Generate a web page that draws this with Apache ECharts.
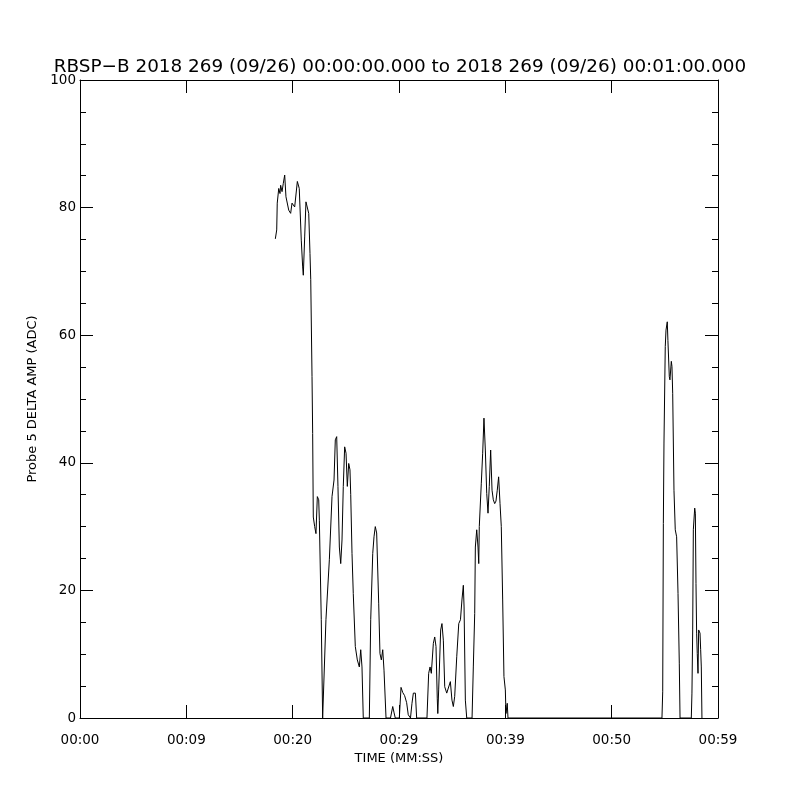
<!DOCTYPE html>
<html>
<head>
<meta charset="utf-8">
<script src="https://cdn.jsdelivr.net/npm/echarts@6/dist/echarts.min.js"></script>
<style>html,body{margin:0;padding:0;background:#fff}#c{width:800px;height:800px}</style>
</head>
<body>
<div id="c"></div>
<script>
const titleText = 'RBSP\u2212B 2018 269 (09/26) 00:00:00.000 to 2018 269 (09/26) 00:01:00.000';
const xTickLabels = ['00:00','00:09','00:20','00:29','00:39','00:50','00:59'];
const yTicks = [0, 20, 40, 60, 80, 100];

// time in seconds
const times = [
18.37,18.50,18.55,18.69,18.81,18.87,19.00,19.12,19.25,19.37,19.63,19.81,19.94,20.19,20.44,20.57,20.62,20.81,20.94,21.00,
21.13,21.25,21.38,21.51,21.63,21.70,21.82,21.88,21.94,22.07,22.19,22.32,22.45,22.51,22.69,22.82,22.95,23.13,23.45,23.70,
23.89,24.01,24.14,24.26,24.39,24.52,24.64,24.76,24.89,25.02,25.14,25.27,25.39,25.46,25.58,25.70,25.89,26.08,26.27,26.40,
26.52,26.64,27.21,27.34,27.53,27.65,27.77,27.90,28.09,28.21,28.34,28.47,28.59,28.78,29.20,29.41,29.54,29.65,30.03,30.19,
30.35,30.53,30.72,30.87,31.08,31.22,31.35,31.54,31.66,32.63,32.79,32.92,33.04,33.23,33.36,33.48,33.60,33.65,33.73,33.92,
34.04,34.17,34.30,34.49,34.67,34.83,34.98,35.11,35.24,35.43,35.62,35.78,35.92,36.05,36.12,36.24,36.37,36.87,36.99,37.12,
37.18,37.31,37.43,37.50,37.55,37.74,37.87,37.99,38.12,38.25,38.37,38.49,38.62,38.75,38.87,39.00,39.12,39.24,39.37,39.50,
39.62,39.75,39.87,40.00,40.06,40.18,40.25,54.73,54.80,54.86,54.92,55.04,55.11,55.23,55.29,55.42,55.48,55.61,55.67,55.74,
55.86,55.98,56.11,56.24,56.36,56.43,57.49,57.55,57.62,57.68,57.81,57.87,57.93,57.99,58.05,58.12,58.18,58.31,58.37,58.43,
58.49
];
// Probe 5 delta amp (ADC)
const amps = [
75.1,76.5,80.7,83.0,82.2,83.5,82.5,83.8,85.1,81.7,79.6,79.1,80.7,80.1,84.1,83.8,83.0,74.9,70.7,69.4,
75.4,80.9,80.7,79.1,72.8,68.7,53.5,44.6,31.5,30.0,28.9,34.7,34.2,31.0,15.4,0,0,15.4,24.8,34.7,
37.3,43.6,44.1,36.3,26.8,24.2,27.9,36.3,42.5,41.5,36.3,39.9,38.9,35.0,25.8,19.5,11.2,9.1,8.0,10.7,
8.0,0,0,15.4,25.8,28.4,30.0,29.0,18.0,10.1,9.1,10.7,7.5,0,0,1.8,0.8,0,0,4.8,
4.0,3.5,2.4,0.5,0,2.3,3.9,3.9,0,0,7.0,8.0,7.0,11.7,12.7,11.2,3.0,0.7,4.4,13.8,
14.8,12.2,4.9,3.9,3.9,5.7,2.8,1.8,3.4,9.6,14.8,15.4,18.5,20.8,17.4,2.8,0,0,8.0,16.4,
26.8,29.5,26.8,24.2,30.0,36.8,41.5,47.0,42.0,35.2,32.1,36.3,42.0,35.7,34.2,33.6,34.0,35.7,37.8,33.6,
30.0,18.5,6.5,4.4,0.7,2.3,0,0,4.1,30.5,43.1,58.2,60.8,62.1,59.2,53.5,53.0,55.9,55.1,50.9,
35.7,29.5,28.4,19.5,8.6,0,0,3.9,13.8,29.5,32.9,32.1,21.1,13.3,10.1,7.0,13.8,13.3,10.7,8.0,
0
];

const seriesData = times.map((t, i) => [t, amps[i]]);
const FONT = 'DejaVu Sans';

const chart = echarts.init(document.getElementById('c'), null, {renderer: 'canvas'});
const lineStyle = {color: '#000', width: 1};
chart.setOption({
  animation: false,
  backgroundColor: '#fff',
  title: {
    text: titleText, left: 'center', top: 53,
    textStyle: {fontFamily: FONT, fontSize: 18.4, fontWeight: 'normal', color: '#000'}
  },
  grid: {left: 80, right: 82, top: 80, bottom: 82, containLabel: false},
  xAxis: [{
    type: 'value', min: 0, max: 60, interval: 10, position: 'bottom',
    name: 'TIME (MM:SS)', nameLocation: 'middle', nameGap: 34,
    nameTextStyle: {fontFamily: FONT, fontSize: 13, color: '#000'},
    axisLine: {show: true, onZero: false, lineStyle},
    axisTick: {show: true, inside: true, length: 13, lineStyle},
    axisLabel: {fontFamily: FONT, fontSize: 13.5, color: '#000', margin: 15,
      formatter: (v) => xTickLabels[Math.round(v / 10)]},
    splitLine: {show: false}
  }, {
    type: 'value', min: 0, max: 60, interval: 10, position: 'top',
    axisLine: {show: true, onZero: false, lineStyle},
    axisTick: {show: true, inside: true, length: 13, lineStyle},
    axisLabel: {show: false}, splitLine: {show: false}
  }],
  yAxis: [{
    type: 'value', min: 0, max: 100, interval: 20, position: 'left',
    name: 'Probe 5 DELTA AMP (ADC)', nameLocation: 'middle', nameGap: 40,
    nameTextStyle: {fontFamily: FONT, fontSize: 13, color: '#000'},
    axisLine: {show: true, onZero: false, lineStyle},
    axisTick: {show: true, inside: true, length: 13, lineStyle},
    minorTick: {show: true, splitNumber: 4, length: 6, lineStyle},
    axisLabel: {fontFamily: FONT, fontSize: 13.5, color: '#000', margin: 4,
      formatter: (v) => yTicks.includes(v) ? String(v) : ''},
    splitLine: {show: false}, minorSplitLine: {show: false}
  }, {
    type: 'value', min: 0, max: 100, interval: 20, position: 'right',
    axisLine: {show: true, onZero: false, lineStyle},
    axisTick: {show: true, inside: true, length: 13, lineStyle},
    minorTick: {show: true, splitNumber: 4, length: 6, lineStyle},
    axisLabel: {show: false}, splitLine: {show: false}, minorSplitLine: {show: false}
  }],
  series: [{
    type: 'line', xAxisIndex: 0, yAxisIndex: 0,
    data: seriesData, showSymbol: false, symbol: 'none',
    lineStyle: {color: '#000', width: 1}, itemStyle: {color: '#000'},
    silent: true
  }]
});
</script>
</body>
</html>
